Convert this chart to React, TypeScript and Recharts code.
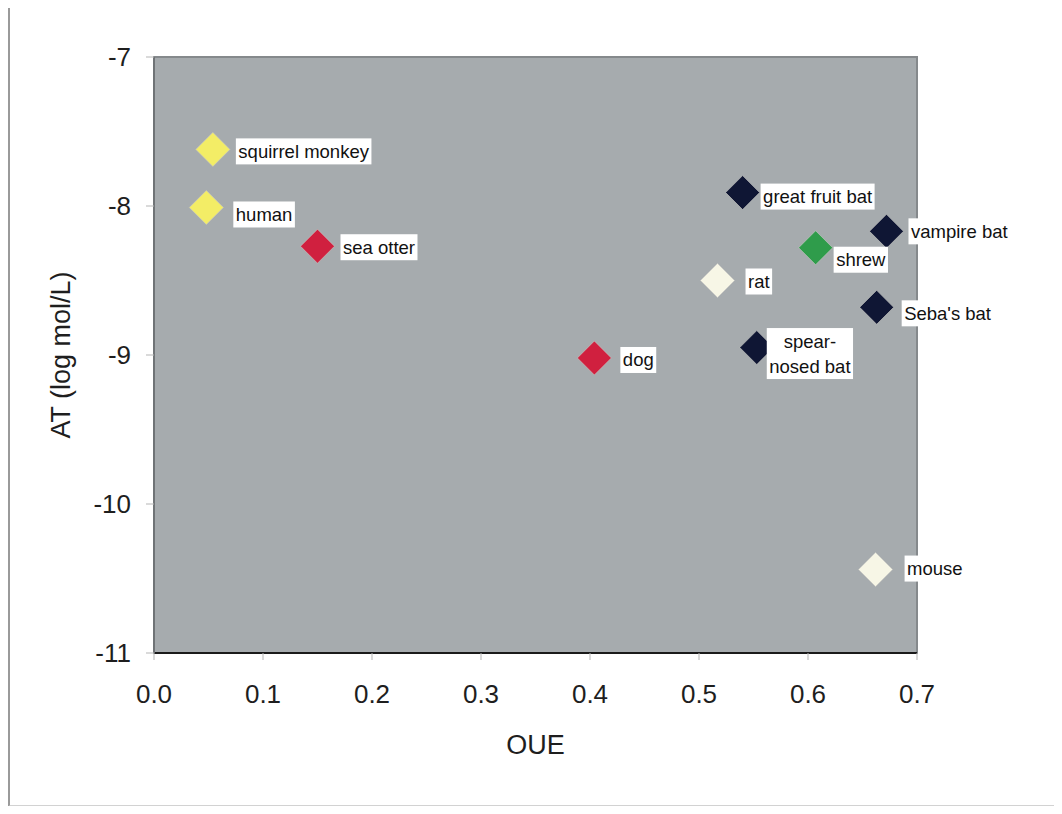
import { ReferenceArea, Scatter, ScatterChart, XAxis, YAxis } from "recharts";

// values
const species = [
  "squirrel monkey",
  "human",
  "sea otter",
  "dog",
  "rat",
  "great fruit bat",
  "shrew",
  "vampire bat",
  "Seba's bat",
  "spear-nosed bat",
  "mouse",
];
const oue = [0.054, 0.048, 0.15, 0.404, 0.517, 0.54, 0.607, 0.672, 0.663, 0.553, 0.662];
const at = [-7.62, -8.01, -8.27, -9.02, -8.5, -7.91, -8.28, -8.17, -8.68, -8.95, -10.44];
const group = [
  "primate",
  "primate",
  "carnivore",
  "carnivore",
  "rodent",
  "bat",
  "insectivore",
  "bat",
  "bat",
  "bat",
  "rodent",
];
const xTicks = [0, 0.1, 0.2, 0.3, 0.4, 0.5, 0.6, 0.7];
const yTicks = [-11, -10, -9, -8, -7];

const groupColors: Record<string, string> = {
  primate: "#f3ed66",
  carnivore: "#d0203f",
  rodent: "#f7f6e6",
  bat: "#0f1634",
  insectivore: "#2f9c4b",
};

// label placement relative to the marker (box left edge, box vertical centre)
const labelPlace: Record<string, { dx: number; dy: number }> = {
  "squirrel monkey": { dx: 23, dy: 2 },
  human: { dx: 27, dy: 7 },
  "sea otter": { dx: 23, dy: 1 },
  dog: { dx: 26, dy: 2 },
  rat: { dx: 28, dy: 1 },
  "great fruit bat": { dx: 18, dy: 4 },
  shrew: { dx: 18, dy: 12 },
  "vampire bat": { dx: 22, dy: 0 },
  "Seba's bat": { dx: 25, dy: 6 },
  "spear-nosed bat": { dx: 10, dy: 6 },
  mouse: { dx: 29, dy: -1 },
};
const labelLines: Record<string, string[]> = {
  "spear-nosed bat": ["spear-", "nosed bat"],
};

const rows = species.map((name, i) => ({ name, oue: oue[i], at: at[i], group: group[i] }));

const FONT = "Arial, 'Liberation Sans', sans-serif";
const LABEL_SIZE = 18.5;

let ctx: CanvasRenderingContext2D | null = null;
function textWidth(s: string) {
  if (!ctx) ctx = document.createElement("canvas").getContext("2d");
  if (!ctx) return s.length * LABEL_SIZE * 0.5;
  ctx.font = `${LABEL_SIZE}px ${FONT}`;
  return ctx.measureText(s).width;
}

function Diamond(props: any) {
  const { cx, cy, payload } = props;
  const r = 17;
  const fill = groupColors[payload.group];
  return (
    <path
      d={`M${cx},${cy - r}L${cx + r},${cy}L${cx},${cy + r}L${cx - r},${cy}Z`}
      fill={fill}
      stroke="#c9c9c4"
      strokeOpacity={0.6}
      strokeWidth={1}
    />
  );
}

function PointLabel(props: any) {
  const { cx, cy, payload } = props;
  const place = labelPlace[payload.name] || { dx: 22, dy: 0 };
  const lines = labelLines[payload.name] || [payload.name];
  const lineH = 25;
  const pad = 2.5;
  const w = Math.max(...lines.map(textWidth)) + pad * 2;
  const h = lines.length * lineH + 1;
  const left = cx + place.dx;
  const midY = cy + place.dy;
  const centre = left + w / 2;
  return (
    <g>
      <rect x={left} y={midY - h / 2} width={w} height={h} fill="#ffffff" />
      {lines.map((ln, i) => (
        <text
          key={ln}
          x={lines.length > 1 ? centre : left + pad}
          y={midY - ((lines.length - 1) * lineH) / 2 + i * lineH}
          dy="0.35em"
          textAnchor={lines.length > 1 ? "middle" : "start"}
          fontSize={LABEL_SIZE}
          fontFamily={FONT}
          fill="#111"
        >
          {ln}
        </text>
      ))}
    </g>
  );
}

export default function App() {
  return (
    <div style={{ position: "relative", width: 1046, height: 798, background: "#fff" }}>
      <ScatterChart
        width={1046}
        height={798}
        margin={{ top: 49, right: 137, bottom: 93, left: 20 }}
        style={{ fontFamily: FONT }}
      >
        <XAxis
          type="number"
          dataKey="oue"
          domain={[0, 0.7]}
          ticks={xTicks}
          tickFormatter={(v) => Number(v).toFixed(1)}
          height={60}
          tickSize={7}
          tickMargin={25}
          tick={{ fontSize: 26, fill: "#1e1e1e", fontFamily: FONT }}
          tickLine={{ stroke: "#b5b5b5" }}
          axisLine={{ stroke: "#1a1a1a", strokeWidth: 2 }}
          label={{ value: "OUE", position: "bottom", offset: 22, fontSize: 27, fill: "#1e1e1e", fontFamily: FONT }}
        />
        <YAxis
          type="number"
          dataKey="at"
          domain={[-11, -7]}
          ticks={yTicks}
          width={126}
          tickSize={8}
          tickMargin={15}
          tick={{ fontSize: 26, fill: "#1e1e1e", fontFamily: FONT }}
          tickLine={{ stroke: "#b5b5b5" }}
          axisLine={{ stroke: "#6f7376", strokeWidth: 2 }}
          label={{
            value: "AT (log mol/L)",
            angle: -90,
            position: "insideLeft",
            offset: 32,
            fontSize: 27,
            fill: "#1e1e1e",
            fontFamily: FONT,
            style: { textAnchor: "middle" },
          }}
        />
        <ReferenceArea
          x1={0}
          x2={0.7}
          y1={-11}
          y2={-7}
          fill="#a6abae"
          fillOpacity={1}
          stroke="#85898c"
          strokeWidth={2}
          ifOverflow="visible"
        />
        <Scatter data={rows} shape={Diamond} isAnimationActive={false} />
        <Scatter data={rows} shape={PointLabel} isAnimationActive={false} legendType="none" />
      </ScatterChart>
      <div
        style={{
          position: "absolute",
          zIndex: 2,
          left: 0,
          top: -3,
          width: 1052,
          height: 802,
          boxSizing: "border-box",
          borderLeft: "2px solid #9a9a9a",
          borderTop: "2px solid #b8b8b8",
          borderBottom: "2px solid #d2d2d2",
          pointerEvents: "none",
        }}
      />
    </div>
  );
}
